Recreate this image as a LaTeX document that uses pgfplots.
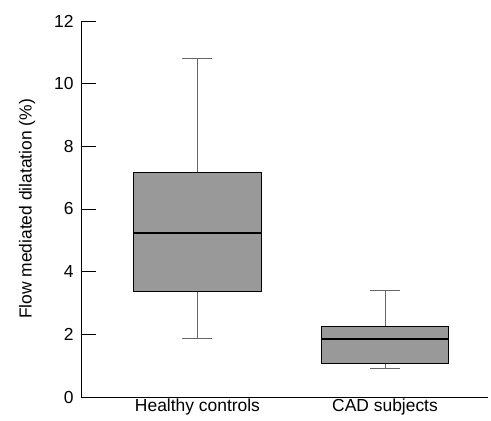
\documentclass[border=0pt]{standalone}
\usepackage{fontspec}
\setmainfont{Liberation Sans}
\usepackage{pgfplots}
\pgfplotsset{compat=1.18}
\usepgfplotslibrary{statistics}
\begin{document}
\begin{tikzpicture}
\useasboundingbox (-81bp,-24bp) rectangle (410bp,397bp);
\begin{axis}[
  at={(0,0)}, anchor=south west,
  scale only axis,
  width=407bp, height=376bp,
  xmin=0.379, xmax=2.549,
  ymin=0, ymax=12,
  axis x line=bottom, axis y line=left,
  axis line style={-, black, line width=0.8pt},
  xtick={1,2}, xticklabels={Healthy controls, CAD subjects},
  x tick style={draw=none},
  ytick={0,2,...,12},
  tick align=inside,
  y tick style={black, line width=0.8pt},
  major tick length=15bp,
  yticklabel style={xshift=-4bp},
  /pgf/number format/assume math mode=true,
  tick label style={font=\fontsize{17.5}{20}\selectfont},
  label style={font=\fontsize{17.5}{20}\selectfont},
  ylabel={Flow mediated dilatation (\%)},
  ylabel shift=12bp,
  xticklabel style={yshift=2bp},
  boxplot/draw direction=y,
  clip=false,
]
\addplot+[boxplot prepared={
    draw position=1,
    lower whisker=1.88, lower quartile=3.37, median=5.24,
    upper quartile=7.16, upper whisker=10.82,
    box extend=0.68, whisker extend=0.16,
    every box/.style={draw=black, fill=black!40, line width=0.8pt},
    every whisker/.style={draw=black!60, line width=0.9pt},
    every median/.style={draw=black, line width=2.4pt}
  }, draw=black, mark=none] coordinates {};
\addplot+[boxplot prepared={
    draw position=2,
    lower whisker=0.915, lower quartile=1.07, median=1.86,
    upper quartile=2.24, upper whisker=3.40,
    box extend=0.68, whisker extend=0.16,
    every box/.style={draw=black, fill=black!40, line width=0.8pt},
    every whisker/.style={draw=black!60, line width=0.9pt},
    every median/.style={draw=black, line width=2.4pt}
  }, draw=black, mark=none] coordinates {};
\end{axis}
\end{tikzpicture}
\end{document}
